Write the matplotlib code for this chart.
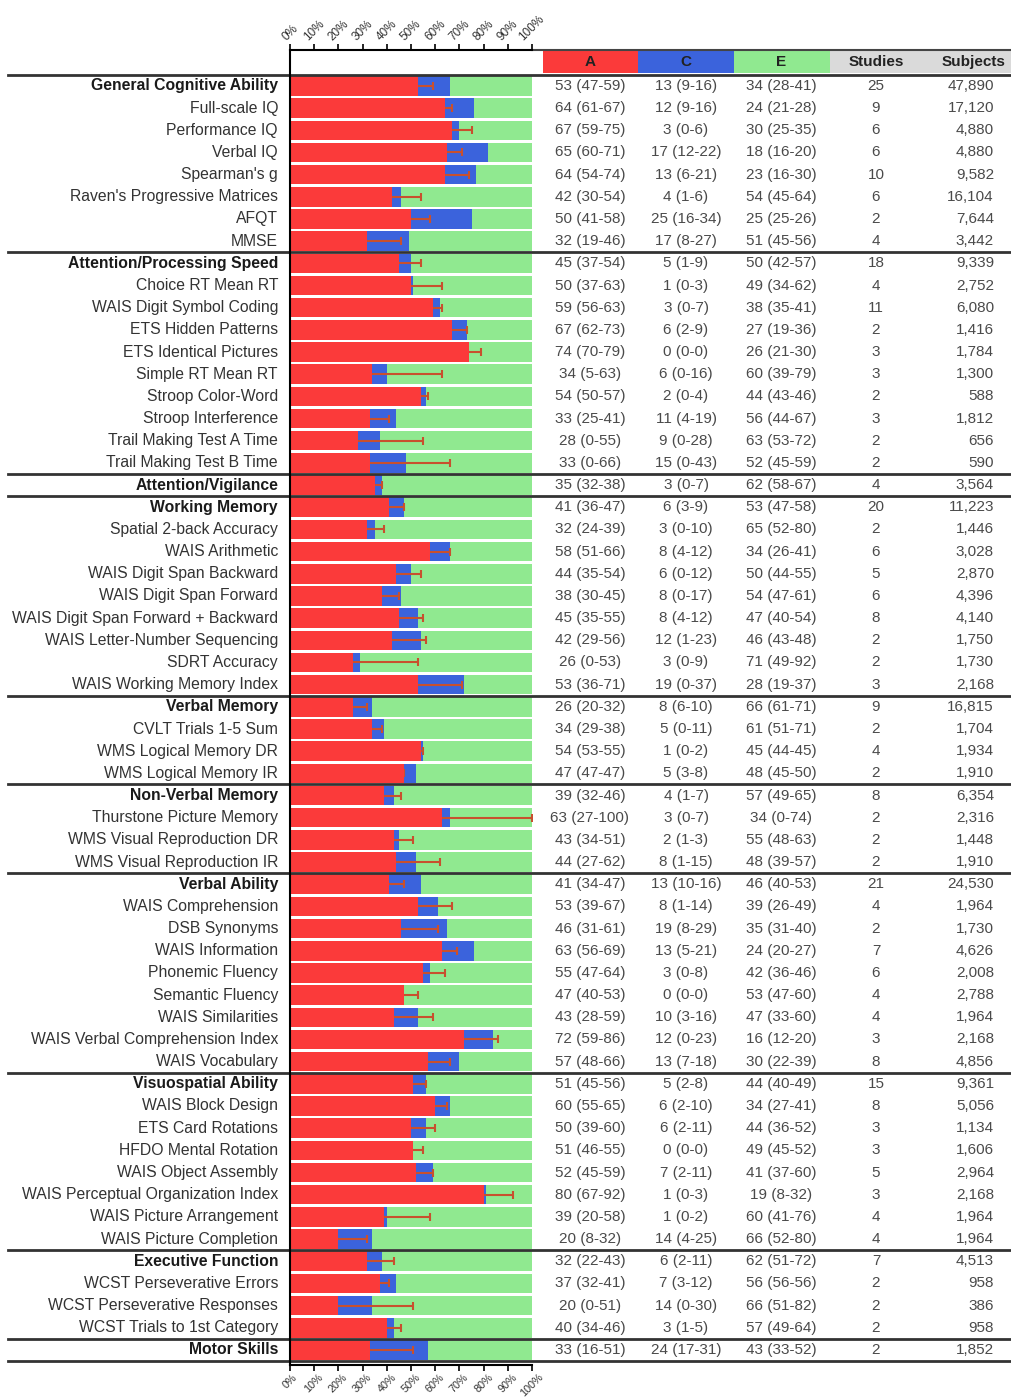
import matplotlib
matplotlib.use('Agg')
import matplotlib.pyplot as plt
import matplotlib.transforms as mtransforms
from matplotlib.patches import Rectangle

plt.rcParams['font.family'] = ['Liberation Sans', 'DejaVu Sans']

labels = [
    'General Cognitive Ability', 'Full-scale IQ', 'Performance IQ', 'Verbal IQ',
    "Spearman's g", "Raven's Progressive Matrices", 'AFQT', 'MMSE',
    'Attention/Processing Speed', 'Choice RT Mean RT', 'WAIS Digit Symbol Coding',
    'ETS Hidden Patterns', 'ETS Identical Pictures', 'Simple RT Mean RT',
    'Stroop Color-Word', 'Stroop Interference', 'Trail Making Test A Time',
    'Trail Making Test B Time',
    'Attention/Vigilance',
    'Working Memory', 'Spatial 2-back Accuracy', 'WAIS Arithmetic',
    'WAIS Digit Span Backward', 'WAIS Digit Span Forward',
    'WAIS Digit Span Forward + Backward', 'WAIS Letter-Number Sequencing',
    'SDRT Accuracy', 'WAIS Working Memory Index',
    'Verbal Memory', 'CVLT Trials 1-5 Sum', 'WMS Logical Memory DR',
    'WMS Logical Memory IR',
    'Non-Verbal Memory', 'Thurstone Picture Memory', 'WMS Visual Reproduction DR',
    'WMS Visual Reproduction IR',
    'Verbal Ability', 'WAIS Comprehension', 'DSB Synonyms', 'WAIS Information',
    'Phonemic Fluency', 'Semantic Fluency', 'WAIS Similarities',
    'WAIS Verbal Comprehension Index', 'WAIS Vocabulary',
    'Visuospatial Ability', 'WAIS Block Design', 'ETS Card Rotations',
    'HFDO Mental Rotation', 'WAIS Object Assembly',
    'WAIS Perceptual Organization Index', 'WAIS Picture Arrangement',
    'WAIS Picture Completion',
    'Executive Function', 'WCST Perseverative Errors',
    'WCST Perseverative Responses', 'WCST Trials to 1st Category',
    'Motor Skills',
]

group_rows = [0, 8, 18, 19, 28, 32, 36, 45, 53, 57]

a_val = [53, 64, 67, 65, 64, 42, 50, 32, 45, 50, 59, 67, 74, 34, 54, 33, 28, 33, 35,
         41, 32, 58, 44, 38, 45, 42, 26, 53, 26, 34, 54, 47, 39, 63, 43, 44,
         41, 53, 46, 63, 55, 47, 43, 72, 57, 51, 60, 50, 51, 52, 80, 39, 20,
         32, 37, 20, 40, 33]
a_lo = [47, 61, 59, 60, 54, 30, 41, 19, 37, 37, 56, 62, 70, 5, 50, 25, 0, 0, 32,
        36, 24, 51, 35, 30, 35, 29, 0, 36, 20, 29, 53, 47, 32, 27, 34, 27,
        34, 39, 31, 56, 47, 40, 28, 59, 48, 45, 55, 39, 46, 45, 67, 20, 8,
        22, 32, 0, 34, 16]
a_hi = [59, 67, 75, 71, 74, 54, 58, 46, 54, 63, 63, 73, 79, 63, 57, 41, 55, 66, 38,
        47, 39, 66, 54, 45, 55, 56, 53, 71, 32, 38, 55, 47, 46, 100, 51, 62,
        47, 67, 61, 69, 64, 53, 59, 86, 66, 56, 65, 60, 55, 59, 92, 58, 32,
        43, 41, 51, 46, 51]
c_val = [13, 12, 3, 17, 13, 4, 25, 17, 5, 1, 3, 6, 0, 6, 2, 11, 9, 15, 3,
         6, 3, 8, 6, 8, 8, 12, 3, 19, 8, 5, 1, 5, 4, 3, 2, 8,
         13, 8, 19, 13, 3, 0, 10, 12, 13, 5, 6, 6, 0, 7, 1, 1, 14,
         6, 7, 14, 3, 24]
c_lo = [9, 9, 0, 12, 6, 1, 16, 8, 1, 0, 0, 2, 0, 0, 0, 4, 0, 0, 0,
        3, 0, 4, 0, 0, 4, 1, 0, 0, 6, 0, 0, 3, 1, 0, 1, 1,
        10, 1, 8, 5, 0, 0, 3, 0, 7, 2, 2, 2, 0, 2, 0, 0, 4,
        2, 3, 0, 1, 17]
c_hi = [16, 16, 6, 22, 21, 6, 34, 27, 9, 3, 7, 9, 0, 16, 4, 19, 28, 43, 7,
        9, 10, 12, 12, 17, 12, 23, 9, 37, 10, 11, 2, 8, 7, 7, 3, 15,
        16, 14, 29, 21, 8, 0, 16, 23, 18, 8, 10, 11, 0, 11, 3, 2, 25,
        11, 12, 30, 5, 31]
e_val = [34, 24, 30, 18, 23, 54, 25, 51, 50, 49, 38, 27, 26, 60, 44, 56, 63, 52, 62,
         53, 65, 34, 50, 54, 47, 46, 71, 28, 66, 61, 45, 48, 57, 34, 55, 48,
         46, 39, 35, 24, 42, 53, 47, 16, 30, 44, 34, 44, 49, 41, 19, 60, 66,
         62, 56, 66, 57, 43]
e_lo = [28, 21, 25, 16, 16, 45, 25, 45, 42, 34, 35, 19, 21, 39, 43, 44, 53, 45, 58,
        47, 52, 26, 44, 47, 40, 43, 49, 19, 61, 51, 44, 45, 49, 0, 48, 39,
        40, 26, 31, 20, 36, 47, 33, 12, 22, 40, 27, 36, 45, 37, 8, 41, 52,
        51, 56, 51, 49, 33]
e_hi = [41, 28, 35, 20, 30, 64, 26, 56, 57, 62, 41, 36, 30, 79, 46, 67, 72, 59, 67,
        58, 80, 41, 55, 61, 54, 48, 92, 37, 71, 71, 45, 50, 65, 74, 63, 57,
        53, 49, 40, 27, 46, 60, 60, 20, 39, 49, 41, 52, 52, 60, 32, 76, 80,
        72, 56, 82, 64, 52]
studies = [25, 9, 6, 6, 10, 6, 2, 4, 18, 4, 11, 2, 3, 3, 2, 3, 2, 2, 4,
           20, 2, 6, 5, 6, 8, 2, 2, 3, 9, 2, 4, 2, 8, 2, 2, 2,
           21, 4, 2, 7, 6, 4, 4, 3, 8, 15, 8, 3, 3, 5, 3, 4, 4,
           7, 2, 2, 2, 2]
subjects = ['47,890', '17,120', '4,880', '4,880', '9,582', '16,104', '7,644', '3,442',
            '9,339', '2,752', '6,080', '1,416', '1,784', '1,300', '588', '1,812',
            '656', '590', '3,564', '11,223', '1,446', '3,028', '2,870', '4,396',
            '4,140', '1,750', '1,730', '2,168', '16,815', '1,704', '1,934', '1,910',
            '6,354', '2,316', '1,448', '1,910', '24,530', '1,964', '1,730', '4,626',
            '2,008', '2,788', '1,964', '2,168', '4,856', '9,361', '5,056', '1,134',
            '1,606', '2,964', '2,168', '1,964', '1,964', '4,513', '958', '386',
            '958', '1,852']

xticks = list(range(0, 101, 10))
xtick_labels = [f'{t}%' for t in xticks]
col_names = ['A', 'C', 'E', 'Studies', 'Subjects']

RED = '#fb3a3a'
BLUE = '#3b63dc'
GREEN = '#90e990'
GRAY = '#dadada'
ERR = '#c8502e'

W, H = 1011, 1399
fig = plt.figure(figsize=(W / 100, H / 100), dpi=100)
ax = fig.add_axes([290 / W, 1 - 1365 / H, 242 / W, 1315 / H])

n = len(labels)
rows = list(range(n))
ac = [a + c for a, c in zip(a_val, c_val)]

# red on top of the error bars, blue/green below them
ax.barh(rows, a_val, height=0.88, color=RED, zorder=4)
ax.barh(rows, c_val, left=a_val, height=0.88, color=BLUE, zorder=2)
ax.barh(rows, e_val, left=ac, height=0.88, color=GREEN, zorder=2)
ax.errorbar(a_val, rows,
            xerr=[[a - lo for a, lo in zip(a_val, a_lo)],
                  [hi - a for a, hi in zip(a_val, a_hi)]],
            fmt='none', ecolor=ERR, elinewidth=1.5, capsize=3, capthick=1.5,
            zorder=3)

ax.set_xlim(0, 100)
ax.set_ylim(57.68, -1.62)
ax.set_yticks([])
ax.set_xticks(xticks)
ax.set_xticklabels(xtick_labels)
ax.tick_params(axis='x', which='major', direction='out', length=4, width=1.2,
               top=True, bottom=True, labeltop=True, labelbottom=True,
               labelsize=8.5, labelcolor='#333333', pad=2)
ax.tick_params(axis='x', which='major', labelbottom=True, pad=1)
for tick in ax.xaxis.get_major_ticks():
    tick.label1.set_rotation(45)
    tick.label1.set_ha('center')
    tick.label1.set_fontsize(7.8)
    tick.label2.set_rotation(45)
    tick.label2.set_ha('center')
ax.spines['right'].set_visible(False)
for s in ['left', 'top', 'bottom']:
    ax.spines[s].set_linewidth(1.5)
    ax.spines[s].set_zorder(6)

trans = mtransforms.blended_transform_factory(fig.transFigure, ax.transData)

# row labels
for i, lab in enumerate(labels):
    bold = i in group_rows
    ax.text(278 / W, i, lab, transform=trans, ha='right', va='center',
            fontsize=11.3, fontweight='bold' if bold else 'normal',
            color='#1a1a1a' if bold else '#333333')

# table header
hdr_top, hdr_h = -1.62, 1.05
hdr_boxes = [(543, 638, RED), (638, 734, BLUE), (734, 830, GREEN), (830, 1011, GRAY)]
for x0, x1, col in hdr_boxes:
    ax.add_patch(Rectangle((x0 / W, hdr_top), (x1 - x0) / W, hdr_h, transform=trans,
                           facecolor=col, edgecolor='none', clip_on=False))
col_x = [590, 686, 781, 876, 1005]
col_ha = ['center', 'center', 'center', 'center', 'right']
for name, x, ha in zip(col_names, col_x, col_ha):
    ax.text(x / W, hdr_top + hdr_h / 2, name, transform=trans, ha=ha, va='center',
            fontsize=11, fontweight='bold', color='#222222')
ax.plot([532 / W, 1.0], [hdr_top, hdr_top], transform=trans, color='#444444',
        lw=1.5, clip_on=False)

# table body
for i in rows:
    cells = [f'{a_val[i]} ({a_lo[i]}-{a_hi[i]})',
             f'{c_val[i]} ({c_lo[i]}-{c_hi[i]})',
             f'{e_val[i]} ({e_lo[i]}-{e_hi[i]})',
             str(studies[i]), subjects[i]]
    for txt, x, ha in zip(cells, [590, 686, 781, 876, 994], col_ha):
        ax.text(x / W, i, txt, transform=trans, ha=ha, va='center',
                fontsize=11, color='#4a4a4a')

# group separators
for yy in [g - 0.5 for g in group_rows] + [n - 0.5]:
    ax.plot([8 / W, 1.0], [yy, yy], transform=trans, color='#333333', lw=2,
            clip_on=False, zorder=5)

fig.savefig('out.png', dpi=100)
